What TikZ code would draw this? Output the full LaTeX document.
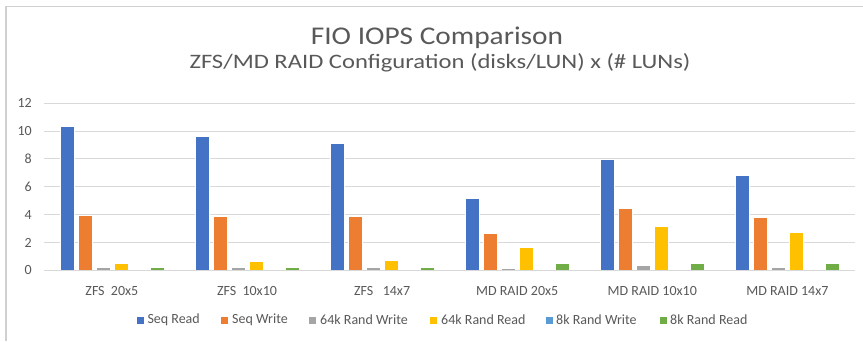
\documentclass[tikz,border=0pt]{standalone}
\usepackage{fontspec}
\setmainfont{Carlito}
\newfontfamily\titlefont{Carlito}[FakeStretch=1.15]
\newfontfamily\subfont{Carlito}[FakeStretch=1.2]
\definecolor{txt}{HTML}{595959}
\definecolor{gridc}{HTML}{D9D9D9}
\definecolor{framec}{HTML}{D0D0D0}
\definecolor{s0}{HTML}{4472C4}
\definecolor{s1}{HTML}{ED7D31}
\definecolor{s2}{HTML}{A5A5A5}
\definecolor{s3}{HTML}{FFC000}
\definecolor{s4}{HTML}{5B9BD5}
\definecolor{s5}{HTML}{70AD47}
\tikzset{
  gridline/.style={draw=gridc, line width=1pt},
  bar/.style={draw=white, line width=0.5pt},
  ticklbl/.style={text=txt, font=\fontsize{14}{16}\selectfont, anchor=east, inner sep=0pt},
  catlbl/.style={text=txt, font=\fontsize{14}{16}\selectfont, inner sep=0pt},
  leglbl/.style={text=txt, font=\fontsize{14}{16}\selectfont, anchor=west, inner sep=0pt},
  legsq/.style={minimum size=7pt, inner sep=0pt, anchor=west},
  titlelbl/.style={text=txt, font=\titlefont\fontsize{25.5}{30}\selectfont, anchor=base, inner sep=0pt},
  sublbl/.style={text=txt, font=\subfont\fontsize{20.5}{24}\selectfont, anchor=base, inner sep=0pt}
}
\begin{document}
\begin{tikzpicture}[x=1pt,y=-1pt]
\useasboundingbox (0,0) rectangle (863,341);
\fill[white] (0,0) rectangle (863,341);
\draw[framec, line width=1.5pt] (6,341) -- (6,6.5) -- (863,6.5);
% gridlines
\foreach \v in {0,2,...,12} {
  \draw[gridline] (44.3,{270.3-\v*13.92}) -- (855,{270.3-\v*13.92});
  \node[ticklbl] (t\v) at (32,{270.3-\v*13.92}) {\v};
}
% bars
\foreach \g/\data in {
  0/{0/10.35,1/3.95,2/0.2,3/0.5,5/0.25},
  1/{0/9.6,1/3.85,2/0.2,3/0.65,5/0.25},
  2/{0/9.1,1/3.9,2/0.2,3/0.74,5/0.2},
  3/{0/5.2,1/2.68,2/0.14,3/1.63,5/0.53},
  4/{0/8.0,1/4.47,2/0.38,3/3.16,5/0.53},
  5/{0/6.82,1/3.78,2/0.19,3/2.75,5/0.53}} {
  \foreach \s/\v in \data {
    \fill[s\s] ({60+135*\g+18*\s},270.3) rectangle ({74.5+135*\g+18*\s},{270.3-\v*13.92});
    \draw[bar] ({60+135*\g+18*\s},270.3) -- ({60+135*\g+18*\s},{270.3-\v*13.92}) -- ({74.5+135*\g+18*\s},{270.3-\v*13.92}) -- ({74.5+135*\g+18*\s},270.3);
  }
}
% category labels
\node[catlbl] (c0) at (111.9,290.7) {ZFS\ \ 20x5};
\node[catlbl] (c1) at (247.0,290.7) {ZFS\ \ 10x10};
\node[catlbl] (c2) at (382.1,290.7) {ZFS\ \ \ 14x7};
\node[catlbl] (c3) at (517.2,290.7) {MD RAID 20x5};
\node[catlbl] (c4) at (652.3,290.7) {MD RAID 10x10};
\node[catlbl] (c5) at (787.4,290.7) {MD RAID 14x7};
% titles
\node[titlelbl] (title) at (437,44.3) {FIO IOPS Comparison};
\node[sublbl] (subtitle) at (440,68) {ZFS/MD RAID Configuration (disks/LUN) x (\# LUNs)};
% legend
\node[legsq, fill=s0] (q0) at (137,320) {};
\node[leglbl] (l0) at (147.3,320) {Seq Read};
\node[legsq, fill=s1] (q1) at (221,320) {};
\node[leglbl] (l1) at (232,320) {Seq Write};
\node[legsq, fill=s2] (q2) at (309,320) {};
\node[leglbl] (l2) at (320,320) {64k Rand Write};
\node[legsq, fill=s3] (q3) at (430,320) {};
\node[leglbl] (l3) at (441,320) {64k Rand Read};
\node[legsq, fill=s4] (q4) at (546,320) {};
\node[leglbl] (l4) at (556,320) {8k Rand Write};
\node[legsq, fill=s5] (q5) at (660,320) {};
\node[leglbl] (l5) at (670,320) {8k Rand Read};
\end{tikzpicture}
\end{document}
